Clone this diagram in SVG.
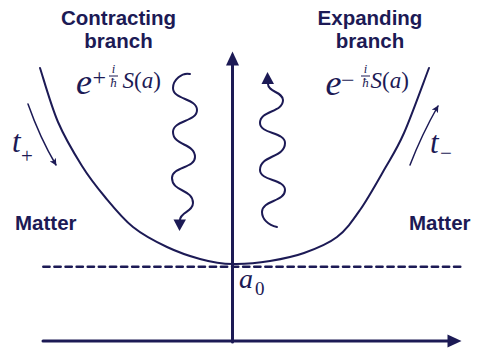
<svg xmlns="http://www.w3.org/2000/svg" width="477" height="350" viewBox="0 0 477 350">
<style>
.ln{fill:none;stroke:#1c1a55;stroke-linecap:round;stroke-linejoin:round}
.hd{fill:#1c1a55;stroke:none}
.lab{font-family:"Liberation Sans",Arial,sans-serif;font-weight:bold;font-size:20.5px;fill:#1c1a55}
.m{font-family:"Liberation Serif","Times New Roman",serif;fill:#1c1a55}
.it{font-style:italic}
</style>
<defs>
<marker id="sa" viewBox="0 0 10 10" refX="9" refY="5" markerWidth="7" markerHeight="7" markerUnits="userSpaceOnUse" orient="auto">
<path d="M0,0 L10,5 L0,10 L2.5,5 Z" fill="#1c1a55"/>
</marker>
</defs>
<rect width="477" height="350" fill="#fff"/>
<g id="connectors">
<line class="ln" x1="43.3" y1="266.7" x2="462" y2="266.7" stroke-width="2.5" stroke-dasharray="6.3 4.8" stroke-linecap="butt"/>
<path id="potential" class="ln" stroke-width="2" d="M40,68 C43,77 51,105.7 58,122 C65,138.3 74.2,153.5 82,166 C89.8,178.5 96.5,186.8 105,197 C113.5,207.2 122.7,218.7 133,227 C143.3,235.3 155.8,241.7 167,247 C178.2,252.3 189,256 200,259 C211,262 221.3,264 232.5,264 C244.7,264.3 258.2,263 270,261 C281.8,259 292.8,257 304,253 C315.2,249 327.7,244.2 337,237 C346.3,229.8 352.2,221.2 360,210 C367.8,198.8 376.7,182.8 384,170 C391.3,157.2 396.5,150 404,133 C411.5,116 424.8,78.8 429,68"/>
<g id="axis-a">
<line class="ln" x1="43" y1="341" x2="450" y2="341" stroke-width="3" stroke-linecap="butt"/>
<polygon class="hd" points="461.5,341 447.5,334.5 447.5,347.5"/>
</g>
<g id="axis-v">
<line class="ln" x1="232.5" y1="342" x2="232.5" y2="62" stroke-width="3" stroke-linecap="butt"/>
<polygon class="hd" points="232.5,51.5 239,65.5 226,65.5"/>
</g>
<path id="wave-left" class="ln" stroke-width="2" d="M190,74 C182,72 173,80 173,88 C173,100 197,98 197,110 C197,122 173,120 173,132 C173,146 195,143 195,157 C195,168.5 172,166.5 172,178 C172,192 193,189 193,203 C193,212 180,212 180,220"/>
<polygon class="hd" points="173.5,219.5 186,219.5 179.5,231"/>
<path id="wave-right" class="ln" stroke-width="2" d="M277,227 C268,225 262,219 262,212 C262,200 285,202 285,190 C285,179 260,181 260,170 C260,155 285,158 285,143 C285,132 260,134 260,123 C260,110 283,113 283,100 C283,92 268,92 268,84"/>
<polygon class="hd" points="261.5,84 274,84 267.5,72"/>
<path id="arrow-tplus" class="ln" stroke-width="1.5" d="M28,104 Q40,138 56,165" marker-end="url(#sa)"/>
<path id="arrow-tminus" class="ln" stroke-width="1.5" d="M410,165 Q422,134 438,106" marker-end="url(#sa)"/>
</g>
<g id="contracting">
<text class="lab" x="118.5" y="25" text-anchor="middle">Contracting</text>
<text class="lab" x="118.5" y="48" text-anchor="middle">branch</text>
</g>
<g id="expanding">
<text class="lab" x="370" y="25" text-anchor="middle">Expanding</text>
<text class="lab" x="370" y="48" text-anchor="middle">branch</text>
</g>
<g id="matter-left"><text class="lab" x="15" y="230">Matter</text></g>
<g id="matter-right"><text class="lab" x="409" y="230">Matter</text></g>
<g id="wave-plus">
<text class="m it" x="76" y="94" font-size="36">e</text>
<text class="m" x="92.5" y="85" font-size="24">+</text>
<text class="m it" x="113.5" y="72.5" font-size="12.5" text-anchor="middle">i</text>
<line x1="109" y1="76" x2="118" y2="76" stroke="#1c1a55" stroke-width="1"/>
<text class="m it" x="113.5" y="86.5" font-size="13" text-anchor="middle">ħ</text>
<text class="m" x="122.5" y="88" font-size="23"><tspan class="it">S</tspan>(<tspan class="it">a</tspan>)</text>
</g>
<g id="wave-minus">
<text class="m it" x="325.5" y="95" font-size="36">e</text>
<text class="m" x="341" y="88" font-size="24">−</text>
<text class="m it" x="365.5" y="72.5" font-size="12.5" text-anchor="middle">i</text>
<line x1="361" y1="76" x2="370" y2="76" stroke="#1c1a55" stroke-width="1"/>
<text class="m it" x="365.5" y="87" font-size="13" text-anchor="middle">ħ</text>
<text class="m" x="370.5" y="88" font-size="23"><tspan class="it">S</tspan>(<tspan class="it">a</tspan>)</text>
</g>
<g id="t-plus">
<text class="m it" x="12" y="152" font-size="31">t</text>
<text class="m" x="21" y="163" font-size="21">+</text>
</g>
<g id="t-minus">
<text class="m it" x="430" y="153" font-size="31">t</text>
<text class="m" x="440" y="160" font-size="21">−</text>
</g>
<g id="a0">
<text class="m it" x="239" y="288" font-size="28">a</text>
<text class="m" x="255" y="295" font-size="19">0</text>
</g>
</svg>
